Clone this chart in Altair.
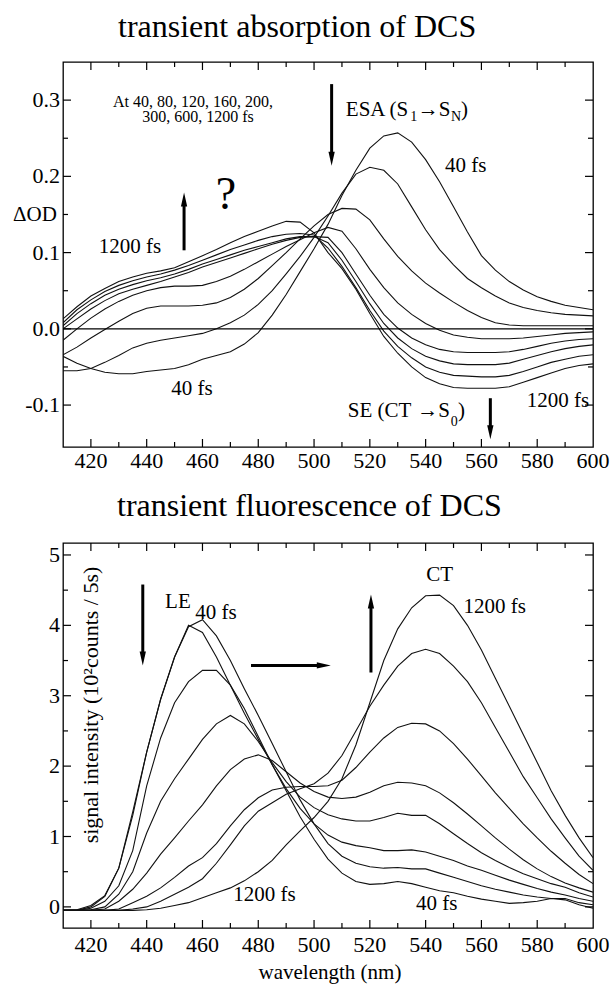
import altair as alt
import pandas as pd

FONT = "Liberation Serif"
W, H = 530, 385

# ---------------- data ----------------
WL = list(range(410, 601, 5))
DELAYS = ["40 fs", "80 fs", "120 fs", "160 fs", "200 fs", "300 fs", "600 fs", "1200 fs"]

# transient absorption (Delta OD)
ta_40 = [-0.036, -0.045, -0.052, -0.057, -0.059, -0.059, -0.056, -0.054, -0.052, -0.047,
         -0.040, -0.035, -0.030, -0.020, -0.005, 0.018, 0.045, 0.075, 0.105, 0.137,
         0.175, 0.208, 0.237, 0.253, 0.257, 0.245, 0.222, 0.193, 0.160, 0.127,
         0.096, 0.077, 0.062, 0.051, 0.042, 0.036, 0.031, 0.028, 0.025]
ta_80 = [-0.055, -0.055, -0.052, -0.044, -0.035, -0.025, -0.019, -0.015, -0.012, -0.009,
         -0.006, 0.000, 0.008, 0.018, 0.032, 0.050, 0.072, 0.095, 0.120, 0.148,
         0.178, 0.203, 0.212, 0.208, 0.190, 0.160, 0.130, 0.104, 0.084, 0.066,
         0.054, 0.043, 0.034, 0.028, 0.024, 0.021, 0.019, 0.018, 0.017]
ta_120 = [-0.034, -0.024, -0.012, -0.001, 0.010, 0.020, 0.027, 0.030, 0.030, 0.030,
          0.031, 0.034, 0.041, 0.052, 0.066, 0.083, 0.100, 0.118, 0.135, 0.150,
          0.158, 0.157, 0.143, 0.118, 0.095, 0.076, 0.060, 0.047, 0.035, 0.024,
          0.015, 0.008, 0.005, 0.004, 0.004, 0.004, 0.004, 0.004, 0.004]
ta_160 = [-0.015, 0.000, 0.014, 0.026, 0.036, 0.044, 0.050, 0.054, 0.056, 0.056,
          0.057, 0.062, 0.069, 0.078, 0.088, 0.098, 0.108, 0.117, 0.126, 0.133,
          0.128, 0.105, 0.078, 0.054, 0.034, 0.019, 0.007, -0.002, -0.008, -0.011,
          -0.013, -0.013, -0.013, -0.012, -0.010, -0.008, -0.006, -0.005, -0.004]
ta_200 = [0.000, 0.013, 0.026, 0.037, 0.046, 0.052, 0.057, 0.062, 0.068, 0.074,
          0.081, 0.087, 0.093, 0.099, 0.105, 0.111, 0.116, 0.120, 0.121, 0.120,
          0.100, 0.072, 0.044, 0.019, 0.001, -0.012, -0.021, -0.027, -0.030, -0.031,
          -0.031, -0.031, -0.030, -0.027, -0.023, -0.019, -0.016, -0.014, -0.013]
ta_300 = [0.004, 0.020, 0.033, 0.044, 0.052, 0.058, 0.063, 0.067, 0.072, 0.078,
          0.085, 0.091, 0.097, 0.103, 0.108, 0.113, 0.118, 0.121, 0.121, 0.113,
          0.090, 0.062, 0.033, 0.007, -0.012, -0.026, -0.036, -0.042, -0.046, -0.047,
          -0.047, -0.047, -0.045, -0.040, -0.035, -0.030, -0.026, -0.023, -0.021]
ta_600 = [0.008, 0.025, 0.038, 0.049, 0.057, 0.063, 0.068, 0.072, 0.077, 0.083,
          0.090, 0.097, 0.104, 0.110, 0.116, 0.121, 0.124, 0.125, 0.123, 0.106,
          0.082, 0.054, 0.024, -0.003, -0.023, -0.038, -0.050, -0.057, -0.061, -0.062,
          -0.063, -0.063, -0.061, -0.056, -0.050, -0.044, -0.040, -0.036, -0.034]
ta_1200 = [0.013, 0.029, 0.043, 0.053, 0.062, 0.068, 0.073, 0.076, 0.080, 0.088,
           0.096, 0.104, 0.113, 0.121, 0.128, 0.135, 0.141, 0.140, 0.126, 0.100,
           0.079, 0.052, 0.020, -0.010, -0.032, -0.050, -0.064, -0.072, -0.077, -0.078,
           -0.078, -0.078, -0.076, -0.070, -0.064, -0.058, -0.052, -0.048, -0.046]

# transient fluorescence (10^2 counts / 5 s)
tf_40 = [-0.05, -0.05, 0.00, 0.15, 0.55, 1.30, 2.20, 2.95, 3.55, 4.00,
         3.90, 3.55, 3.15, 2.75, 2.38, 2.02, 1.65, 1.28, 0.96, 0.68,
         0.48, 0.36, 0.32, 0.33, 0.36, 0.33, 0.28, 0.23, 0.20, 0.15,
         0.11, 0.08, 0.05, 0.06, 0.08, 0.12, 0.10, 0.03, -0.02]
tf_80 = [-0.05, -0.04, 0.02, 0.16, 0.55, 1.35, 2.20, 2.95, 3.55, 3.98,
         4.08, 3.85, 3.50, 3.10, 2.72, 2.32, 1.92, 1.52, 1.18, 0.90,
         0.72, 0.62, 0.57, 0.55, 0.56, 0.54, 0.54, 0.48, 0.42, 0.36,
         0.30, 0.25, 0.21, 0.17, 0.14, 0.12, 0.12, 0.06, 0.03]
tf_120 = [-0.05, -0.05, -0.02, 0.08, 0.30, 0.80, 1.72, 2.40, 2.90, 3.20,
          3.36, 3.36, 3.15, 2.82, 2.42, 2.02, 1.68, 1.40, 1.18, 1.02,
          0.92, 0.87, 0.84, 0.80, 0.80, 0.81, 0.78, 0.72, 0.66, 0.58,
          0.52, 0.45, 0.38, 0.32, 0.26, 0.21, 0.17, 0.12, 0.08]
tf_160 = [-0.05, -0.05, -0.04, 0.00, 0.18, 0.50, 1.05, 1.50, 1.82, 2.10,
          2.38, 2.60, 2.72, 2.60, 2.35, 2.05, 1.78, 1.56, 1.41, 1.31,
          1.25, 1.22, 1.22, 1.27, 1.33, 1.30, 1.30, 1.18, 1.04, 0.90,
          0.77, 0.66, 0.56, 0.47, 0.40, 0.33, 0.28, 0.20, 0.14]
tf_200 = [-0.05, -0.05, -0.05, -0.03, 0.08, 0.25, 0.48, 0.75, 0.98, 1.22,
          1.45, 1.72, 1.95, 2.10, 2.16, 2.08, 1.92, 1.76, 1.64, 1.56,
          1.54, 1.56, 1.63, 1.72, 1.77, 1.76, 1.72, 1.62, 1.48, 1.32,
          1.15, 0.98, 0.82, 0.67, 0.54, 0.43, 0.34, 0.27, 0.21]
tf_300 = [-0.05, -0.05, -0.05, -0.05, -0.03, 0.06, 0.15, 0.27, 0.42, 0.58,
          0.70, 0.90, 1.15, 1.38, 1.55, 1.66, 1.70, 1.71, 1.71, 1.72,
          1.80, 1.98, 2.20, 2.40, 2.55, 2.61, 2.60, 2.50, 2.32, 2.10,
          1.86, 1.62, 1.40, 1.18, 0.98, 0.79, 0.62, 0.46, 0.33]
tf_600 = [-0.05, -0.05, -0.05, -0.05, -0.05, -0.03, 0.00, 0.08, 0.18, 0.28,
          0.40, 0.62, 0.88, 1.15, 1.36, 1.48, 1.60, 1.68, 1.75, 1.90,
          2.15, 2.50, 2.85, 3.15, 3.42, 3.60, 3.66, 3.60, 3.42, 3.20,
          2.90, 2.55, 2.20, 1.85, 1.55, 1.25, 0.98, 0.72, 0.52]
tf_1200 = [-0.05, -0.05, -0.05, -0.05, -0.05, -0.05, -0.04, -0.02, 0.02, 0.06,
           0.13, 0.20, 0.27, 0.37, 0.50, 0.66, 0.88, 1.08, 1.27, 1.50,
           1.82, 2.30, 2.90, 3.50, 3.95, 4.25, 4.42, 4.43, 4.28, 4.00,
           3.65, 3.25, 2.85, 2.45, 2.05, 1.65, 1.30, 0.98, 0.70]

TA = [ta_40, ta_80, ta_120, ta_160, ta_200, ta_300, ta_600, ta_1200]
TF = [tf_40, tf_80, tf_120, tf_160, tf_200, tf_300, tf_600, tf_1200]

X_TICKS = [420, 440, 460, 480, 500, 520, 540, 560, 580, 600]
X_TICK_LABELS = ["420", "440", "460", "480", "500", "520", "540", "560", "580", "600"]
X_MINOR = [430, 450, 470, 490, 510, 530, 550, 570, 590]
TA_YTICKS = [-0.1, 0.0, 0.1, 0.2, 0.3]
TA_YTICK_LABELS = ["-0.1", "0.0", "0.1", "0.2", "0.3"]
TA_YMINOR = [-0.05, 0.05, 0.15, 0.25]
TF_YTICKS = [0, 1, 2, 3, 4, 5]
TF_YTICK_LABELS = ["0", "1", "2", "3", "4", "5"]
TF_YMINOR = [0.5, 1.5, 2.5, 3.5, 4.5]

# annotations: text, wavelength, value, font size
TA_TEXT_C = [["At 40, 80, 120, 160, 200,", 456.6, 0.298, 16],
             ["300, 600, 1200 fs", 458.4, 0.278, 16],
             ["40 fs", 554.4, 0.214, 21],
             ["?", 468.4, 0.175, 46],
             ["1200 fs", 434.0, 0.107, 21],
             ["40 fs", 456.2, -0.079, 21],
             ["1200 fs", 587.4, -0.095, 21]]
TA_TEXT_L = [["ESA (S", 511.4, 0.287, 21],
             ["1", 534.5, 0.278, 14],
             ["\u2192S", 537.2, 0.287, 21],
             ["N", 549.1, 0.278, 14],
             [")", 552.7, 0.287, 21],
             ["SE (CT", 512.1, -0.108, 21],
             ["\u2192S", 537.0, -0.108, 21],
             ["0", 549.0, -0.122, 14],
             [")", 551.6, -0.108, 21]]
TF_TEXT_C = [["LE", 451.2, 4.33, 21],
             ["40 fs", 464.8, 4.18, 21],
             ["CT", 545.0, 4.72, 21],
             ["1200 fs", 564.8, 4.26, 21],
             ["1200 fs", 482.2, 0.17, 21],
             ["40 fs", 544.0, 0.04, 21]]

# arrows: shaft (x, y, x2, y2) and head (x, y, direction)
TA_SHAFTS = [[506.3, 0.321, 506.3, 0.226], [453.4, 0.103, 453.4, 0.167], [563.2, -0.091, 563.2, -0.133]]
TA_HEADS = [[506.3, 0.2232, "down"], [453.4, 0.1698, "up"], [563.2, -0.1358, "down"]]
TF_SHAFTS = [[438.6, 4.58, 438.6, 3.60], [477.4, 3.43, 501.7, 3.43], [520.4, 3.33, 520.4, 4.27]]
TF_HEADS = [[438.6, 3.53, "down"], [503.5, 3.43, "right"], [520.4, 4.34, "up"]]

HEAD_PATHS = {"down": "M-0.45,-1L0.45,-1L0,1Z",
              "up": "M-0.45,1L0.45,1L0,-1Z",
              "right": "M-1,-0.45L-1,0.45L1,0Z"}


def long_df(curves):
    rows = []
    for name, vals in zip(DELAYS, curves):
        for w, v in zip(WL, vals):
            rows.append({"wl": w, "val": v, "delay": name})
    return pd.DataFrame(rows)


def make_panel(curves, xs, ys, ylab, yticks, yminor, texts_c, texts_l, shafts, heads, extra,
               zero_line, xlab_dy):
    X = lambda f: alt.X(f, scale=xs, axis=None)
    Y = lambda f: alt.Y(f, scale=ys, axis=None)
    layers = []
    layers.append(alt.Chart(long_df(curves)).mark_line(color="#111111", strokeWidth=1.1, clip=True).encode(
        x=X("wl:Q"), y=Y("val:Q"), detail="delay:N"))
    if zero_line:
        layers.append(alt.Chart(pd.DataFrame({"z": [0.0]})).mark_rule(color="black", strokeWidth=1.3).encode(
            y=Y("z:Q")))
    # inward ticks on all four sides
    for vals, ln in [(X_TICKS[:-1], 8), (X_MINOR, 5)]:
        d = pd.DataFrame({"v": vals})
        layers.append(alt.Chart(d).mark_rule(color="black", strokeWidth=1.2).encode(
            x=X("v:Q"), y=alt.value(H), y2=alt.value(H - ln)))
        layers.append(alt.Chart(d).mark_rule(color="black", strokeWidth=1.2).encode(
            x=X("v:Q"), y=alt.value(0), y2=alt.value(ln)))
    for vals, ln in [(yticks, 8), (yminor, 5)]:
        d = pd.DataFrame({"v": vals})
        layers.append(alt.Chart(d).mark_rule(color="black", strokeWidth=1.2).encode(
            y=Y("v:Q"), x=alt.value(0), x2=alt.value(ln)))
        layers.append(alt.Chart(d).mark_rule(color="black", strokeWidth=1.2).encode(
            y=Y("v:Q"), x=alt.value(W), x2=alt.value(W - ln)))
    # tick labels
    dxl = pd.DataFrame({"v": X_TICKS, "t": X_TICK_LABELS})
    layers.append(alt.Chart(dxl).mark_text(font=FONT, fontSize=22, align="center", baseline="middle",
                                           color="black").encode(
        x=X("v:Q"), y=alt.value(H + xlab_dy), text="t:N"))
    dyl = pd.DataFrame({"v": yticks, "t": ylab})
    layers.append(alt.Chart(dyl).mark_text(font=FONT, fontSize=22, align="right", baseline="middle",
                                           color="black").encode(
        y=Y("v:Q"), x=alt.value(-3), text="t:N"))
    # annotation texts
    for rows, align in [(texts_c, "center"), (texts_l, "left")]:
        if not rows:
            continue
        d = pd.DataFrame(rows, columns=["t", "x", "y", "s"])
        layers.append(alt.Chart(d).mark_text(font=FONT, align=align, baseline="middle", color="black").encode(
            x=X("x:Q"), y=Y("y:Q"), text="t:N", size=alt.Size("s:Q", scale=None, legend=None)))
    # arrows
    ds = pd.DataFrame(shafts, columns=["x", "y", "x2", "y2"])
    dh = pd.DataFrame(heads, columns=["x", "y", "dir"])
    dh["shp"] = dh["dir"].map(HEAD_PATHS)
    layers.append(alt.Chart(ds).mark_rule(color="black", strokeWidth=3).encode(
        x=X("x:Q"), y=Y("y:Q"), x2="x2:Q", y2="y2:Q"))
    layers.append(alt.Chart(dh).mark_point(filled=True, color="black", opacity=1, size=196, strokeWidth=0).encode(
        x=X("x:Q"), y=Y("y:Q"), shape=alt.Shape("shp:N", scale=None, legend=None)))
    layers.extend(extra)
    return alt.layer(*layers).properties(width=W, height=H)


def label_text(text, x, y, size, align="left", baseline="alphabetic", angle=0):
    d = pd.DataFrame({"t": [text]})
    return alt.Chart(d).mark_text(font=FONT, fontSize=size, align=align, baseline=baseline,
                                  angle=angle, color="black").encode(
        text="t:N", x=alt.value(x), y=alt.value(y))


# ---------------- top panel ----------------
xs_a = alt.Scale(domain=[410, 600], nice=False, zero=False)
ys_a = alt.Scale(domain=[-0.155, 0.35], nice=False, zero=False)

anchor = alt.Chart(pd.DataFrame({"a": [0]})).mark_rule(color="white", strokeWidth=1).encode(
    x=alt.value(-61.5), x2=alt.value(-58), y=alt.value(-60.5), y2=alt.value(-60.5))

top = make_panel(TA, xs_a, ys_a, TA_YTICK_LABELS, TA_YTICKS, TA_YMINOR, TA_TEXT_C, TA_TEXT_L,
                 TA_SHAFTS, TA_HEADS,
                 [anchor,
                  label_text("\u0394OD", -50, 153, 21, align="left", baseline="middle"),
                  label_text("transient absorption of DCS", 55, -25, 32)],
                 zero_line=True, xlab_dy=14)

# ---------------- bottom panel ----------------
xs_f = alt.Scale(domain=[410, 600], nice=False, zero=False)
ys_f = alt.Scale(domain=[-0.3, 5.17], nice=False, zero=False)

bottom = make_panel(TF, xs_f, ys_f, TF_YTICK_LABELS, TF_YTICKS, TF_YMINOR, TF_TEXT_C, [],
                    TF_SHAFTS, TF_HEADS,
                    [label_text("signal intensity (10\u00b2counts / 5s)", 28, 162, 22, align="center",
                                baseline="middle", angle=270),
                     label_text("transient fluorescence of DCS", 54, -27, 32),
                     label_text("wavelength  (nm)", 267, H + 51, 21, align="center", baseline="alphabetic")],
                    zero_line=False, xlab_dy=17)

chart = alt.vconcat(top, bottom, spacing=96, bounds="flush").resolve_scale(
    x="independent", y="independent").configure_view(
    stroke="black", strokeWidth=1.3).properties(padding=0)

chart.save("out.html", embed_options={"renderer": "svg", "actions": False})
